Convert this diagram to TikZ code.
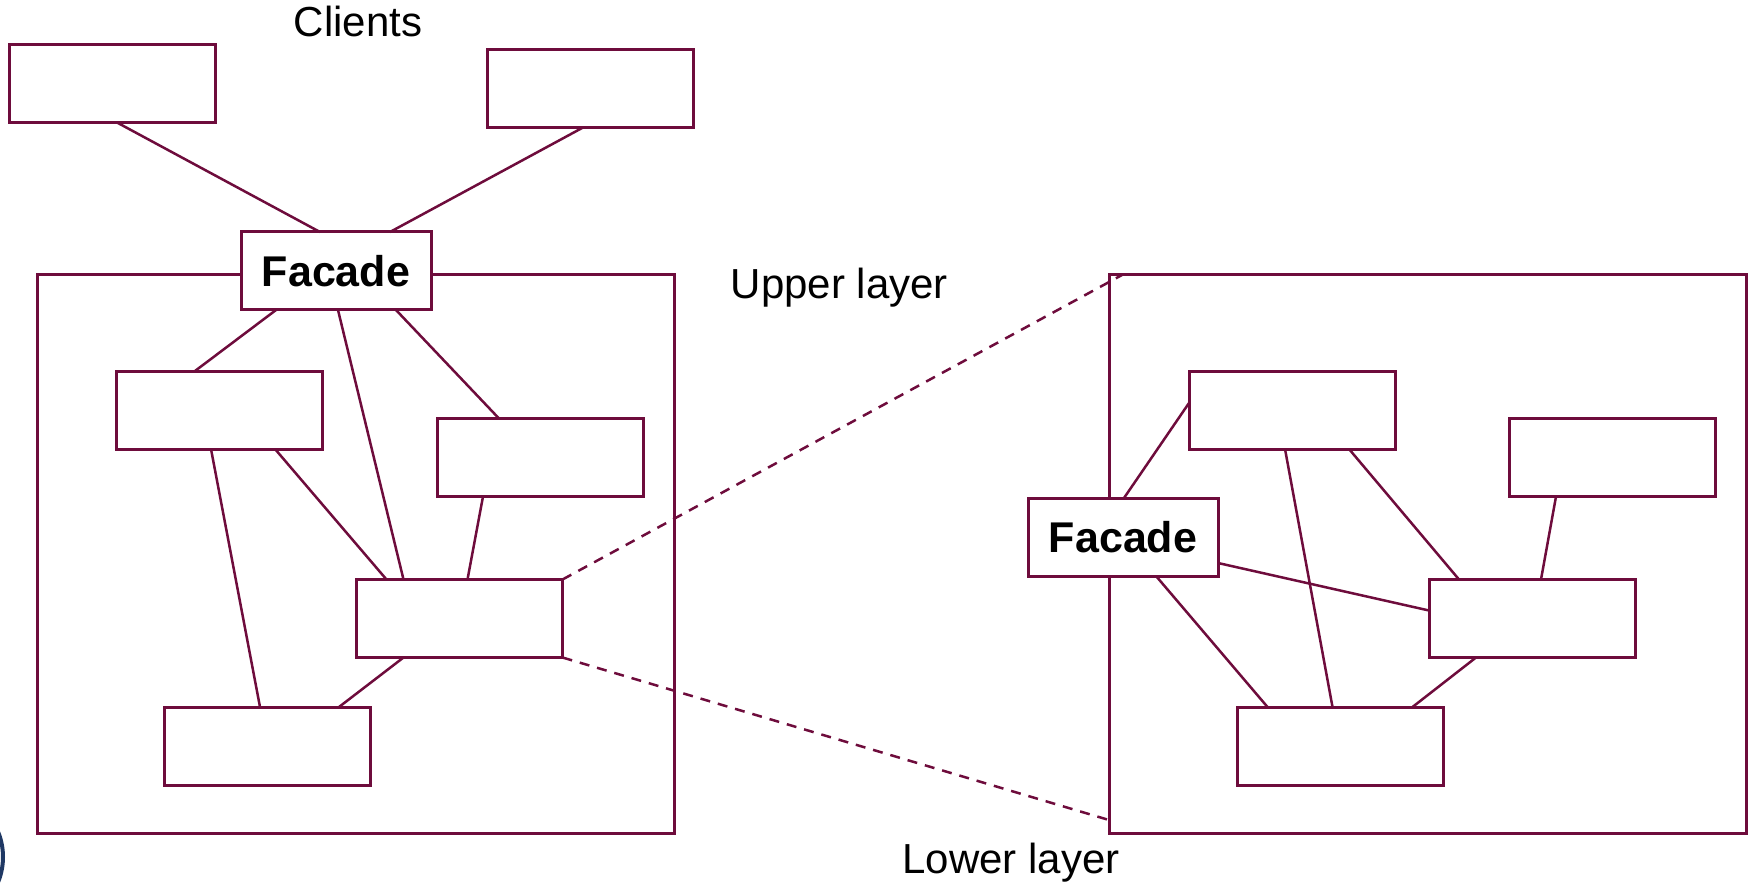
\documentclass[tikz,border=0pt]{standalone}
\usepackage{fontspec}
\setmainfont{Liberation Sans}
\usetikzlibrary{calc}
\definecolor{wine}{RGB}{110,12,60}
\definecolor{navy}{RGB}{31,56,100}

\begin{document}
\begin{tikzpicture}[x=1pt,y=-1pt,
  box/.style={draw=wine, line width=3pt, fill=white, minimum width=206pt,
    minimum height=78pt, inner sep=0pt, outer sep=0pt},
  facade/.style={box, minimum width=190pt, font=\fontsize{43}{43}\selectfont\bfseries},
  layer/.style={draw=wine, line width=3pt, minimum width=637pt, minimum height=558pt,
    inner sep=0pt, outer sep=0pt},
  link/.style={draw=wine, line width=2.5pt},
  zoomline/.style={draw=wine, line width=2.5pt, dash pattern=on 10pt off 8pt},
  caption/.style={font=\fontsize{42}{42}\selectfont, anchor=base, inner sep=0pt}]

\useasboundingbox (0,0) rectangle (1748,885);

% the two layer frames
\node[layer] (lframe) at (355.5,554) {};
\node[layer] (rframe) at (1427.5,554) {};

% captions
\node[caption] (clients) at (358,37) {Clients};
\node[caption] (upper) at (839.5,299) {Upper layer};
\node[caption] (lower) at (1011,873) {Lower layer};

% client classes
\node[box] (c1) at (112,83.5) {};
\node[box] (c2) at (590,88.5) {};

% left subsystem
\node[box] (a) at (219,410) {};
\node[box] (b) at (540,457.5) {};
\node[box] (c) at (459.5,618.5) {};
\node[box] (d) at (267,746) {};

% right subsystem (same classes, facade moved inside)
\node[box] (e) at (1292,410) {};
\node[box] (f) at (1612,457.5) {};
\node[box] (g) at (1532,618.5) {};
\node[box] (h) at (1340.5,746) {};

% facades
\node[facade] (lfac) at (336,271) {Facade};
\node[facade] (rfac) at (1123,537) {Facade};

% links of the left subsystem
\path[link] ($(c1.south west)+(108,0)$) -- ($(lfac.north west)+(79,0)$);
\path[link] ($(c2.south west)+(96,0)$) -- ($(lfac.north west)+(149,0)$);
\path[link] ($(lfac.south west)+(35,0)$) -- ($(a.north west)+(79,0)$);
\path[link] ($(lfac.south west)+(97,0)$) -- ($(c.north west)+(47,0)$);
\path[link] ($(lfac.south west)+(155,0)$) -- ($(b.north west)+(62,0)$);
\path[link] ($(a.south west)+(95,0)$) -- ($(d.north west)+(96,0)$);
\path[link] ($(a.south west)+(159,0)$) -- ($(c.north west)+(30,0)$);
\path[link] ($(b.south west)+(46,0)$) -- ($(c.north west)+(111,0)$);
\path[link] ($(c.south west)+(47,0)$) -- ($(d.north west)+(175,0)$);

% links of the right subsystem
\path[link] ($(rfac.north west)+(96,0)$) -- ($(e.north west)+(0,32)$);
\path[link] ($(rfac.north east)+(0,65)$) -- ($(g.north west)+(0,31)$);
\path[link] ($(rfac.south west)+(128,0)$) -- ($(h.north west)+(30,0)$);
\path[link] ($(e.south west)+(96,0)$) -- ($(h.north west)+(95,0)$);
\path[link] ($(e.south west)+(160,0)$) -- ($(g.north west)+(30,0)$);
\path[link] ($(f.south west)+(47,0)$) -- ($(g.north west)+(112,0)$);
\path[link] ($(g.south west)+(47,0)$) -- ($(h.north west)+(175,0)$);

% zoom lines from the subsystem class to the enlarged view
\path[zoomline] (c.north east) -- ($(rframe.north west)+(13,0)$);
\path[zoomline] (c.south east) -- ($(rframe.south west)+(0,-13)$);

% partial circle at the lower left edge
\begin{scope}
  \clip (0,0) rectangle (1748,885);
  \draw[navy, line width=4pt] (-63,857) circle[radius=66];
\end{scope}
\end{tikzpicture}
\end{document}
